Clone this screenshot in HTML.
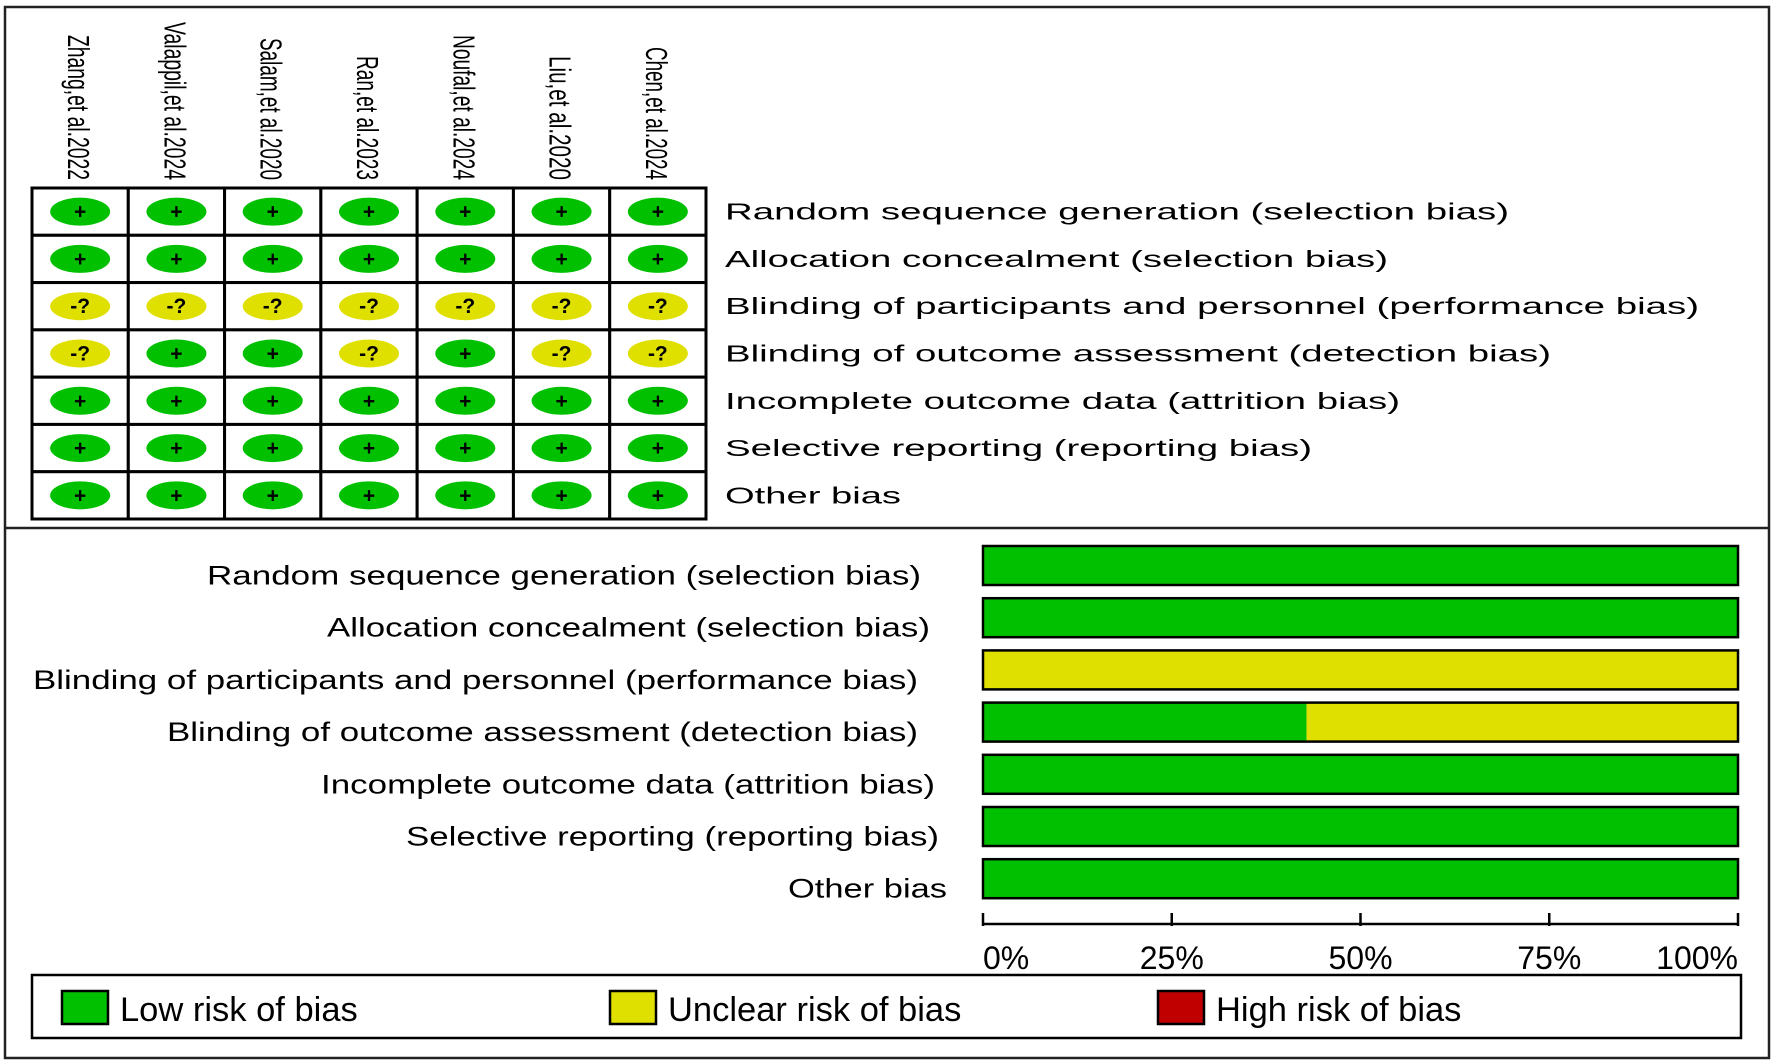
<!DOCTYPE html>
<html><head><meta charset="utf-8"><style>
html,body{margin:0;padding:0;background:#fff;}
svg{display:block;font-family:"Liberation Sans",Arial,sans-serif;}
</style></head><body>
<svg id="chart" width="1772" height="1061" viewBox="0 0 1772 1061" xmlns="http://www.w3.org/2000/svg">
<rect x="5" y="7" width="1764" height="1051" fill="#fff" stroke="#222" stroke-width="2.5"/>
<line x1="5" y1="528" x2="1769" y2="528" stroke="#222" stroke-width="2.5"/>
<g id="summary"></g>
<g id="graph"></g>
<g id="legend"></g>
</svg>
<script>
const studies = ["Zhang,et al.2022","Valappil,et al.2024","Salam,et al.2020","Ran,et al.2023","Noufal,et al.2024","Liu,et al.2020","Chen,et al.2024"];
const domains = ["Random sequence generation (selection bias)","Allocation concealment (selection bias)","Blinding of participants and personnel (performance bias)","Blinding of outcome assessment (detection bias)","Incomplete outcome data (attrition bias)","Selective reporting (reporting bias)","Other bias"];
// judgments[domain][study]: "+" low, "?" unclear, "-" high
const judgments = [
 ["+","+","+","+","+","+","+"],
 ["+","+","+","+","+","+","+"],
 ["?","?","?","?","?","?","?"],
 ["?","+","+","?","+","?","?"],
 ["+","+","+","+","+","+","+"],
 ["+","+","+","+","+","+","+"],
 ["+","+","+","+","+","+","+"]
];
const tickValues = [0,25,50,75,100];
const tickLabels = ["0%","25%","50%","75%","100%"];
const legendLabels = ["Low risk of bias","Unclear risk of bias","High risk of bias"];

const NS="http://www.w3.org/2000/svg";
const GREEN="#00c000", YELLOW="#e0e000", RED="#c00000";
function mk(tag, attrs, parent, txt){const e=document.createElementNS(NS,tag);for(const k in attrs)e.setAttribute(k,attrs[k]);if(txt!==undefined)e.textContent=txt;parent.appendChild(e);return e;}

// text widths measured from reference layout
const studyLabelW=[145,158,142,124,145,124,133];
const domainLabelW=[784,663,974,826,675,587,176];
const barLabelW=[714,603,885,751,614,533,159];
const barLabelEnds=[921,930,918,918,935,939,947];

// ---- summary grid ----
const sg=document.getElementById('summary');
const gx0=32, gy0=188, cw=(706-32)/studies.length, rh=(519-188)/domains.length;
const colX=i=>gx0+cw*(i+0.5), rowY=j=>gy0+rh*(j+0.5);
studies.forEach((s,i)=>{
  const t=mk('text',{transform:`translate(${colX(i)-12},${180}) rotate(90)`,'text-anchor':'end','font-size':31,fill:'#000',textLength:String(studyLabelW[i]),lengthAdjust:'spacingAndGlyphs'},sg,s);
  
  
});
domains.forEach((d,j)=>{
  const t=mk('text',{x:725,y:rowY(j)+8,'font-size':23,fill:'#000',textLength:String(domainLabelW[j]),lengthAdjust:'spacingAndGlyphs'},sg,d);
  
  
  studies.forEach((s,i)=>{
    const r=mk('rect',{x:gx0+cw*i,y:gy0+rh*j,width:cw,height:rh,fill:'#fff',stroke:'#000','stroke-width':3},sg);
    
    
    const v=judgments[j][i];
    const col=v==='+'?GREEN:(v==='?'?YELLOW:RED);
    const e=mk('ellipse',{cx:colX(i),cy:rowY(j),rx:30,ry:14,fill:col},sg);
    
    
    const g=mk('text',{x:colX(i),y:rowY(j)+7,'text-anchor':'middle','font-size':21,'font-weight':'bold',fill:'#000'},sg,v==='?'?'-?':v);
    
    
  });
});

// ---- bar graph ----
const bg=document.getElementById('graph');
const bx0=983, bx1=1738, by0=546, bpitch=52.2, bh=39;
const xs=v=>bx0+(bx1-bx0)*v/100;
domains.forEach((d,j)=>{
  const row=judgments[j];
  const n=row.length;
  const low=row.filter(v=>v==='+').length/n*100;
  const unc=row.filter(v=>v==='?').length/n*100;
  const high=row.filter(v=>v==='-').length/n*100;
  const y=by0+bpitch*j;
  const t=mk('text',{x:barLabelEnds[j],y:y+bh/2+19,'text-anchor':'end','font-size':27,fill:'#000',textLength:String(barLabelW[j]),lengthAdjust:'spacingAndGlyphs'},bg,d);
  
  
  let acc=0;
  [[low,GREEN],[unc,YELLOW],[high,RED]].forEach(([v,c])=>{
    if(v<=0)return;
    const r=mk('rect',{x:xs(acc),y:y,width:xs(acc+v)-xs(acc),height:bh,fill:c},bg);
    
    
    acc+=v;
  });
  const o=mk('rect',{x:bx0,y:y,width:bx1-bx0,height:bh,fill:'none',stroke:'#000','stroke-width':2.5},bg);
  
  
});
const axY=924;
const ax=mk('line',{x1:bx0,y1:axY,x2:bx1,y2:axY,stroke:'#000','stroke-width':2.5},bg);


tickValues.forEach((v,k)=>{
  const tk=mk('line',{x1:xs(v),y1:axY-11,x2:xs(v),y2:axY+2,stroke:'#000','stroke-width':2.5},bg);
  
  
  const anchor=k===0?'start':(k===tickValues.length-1?'end':'middle');
  const tl=mk('text',{x:xs(v),y:969,'text-anchor':anchor,'font-size':32,fill:'#000'},bg,tickLabels[k]);
  
  
});

// ---- legend ----
const lg=document.getElementById('legend');
const lb=mk('rect',{x:32,y:975,width:1709,height:63,fill:'#fff',stroke:'#000','stroke-width':2.5},lg);


const legX=[62,610,1158];
[GREEN,YELLOW,RED].forEach((c,k)=>{
  const sw=mk('rect',{x:legX[k],y:991,width:46,height:33,fill:c,stroke:'#000','stroke-width':2.5},lg);
  
  
  const tx=mk('text',{x:legX[k]+58,y:1021,'font-size':34.5,fill:'#000'},lg,legendLabels[k]);
  
  
});
</script>
</body></html>
